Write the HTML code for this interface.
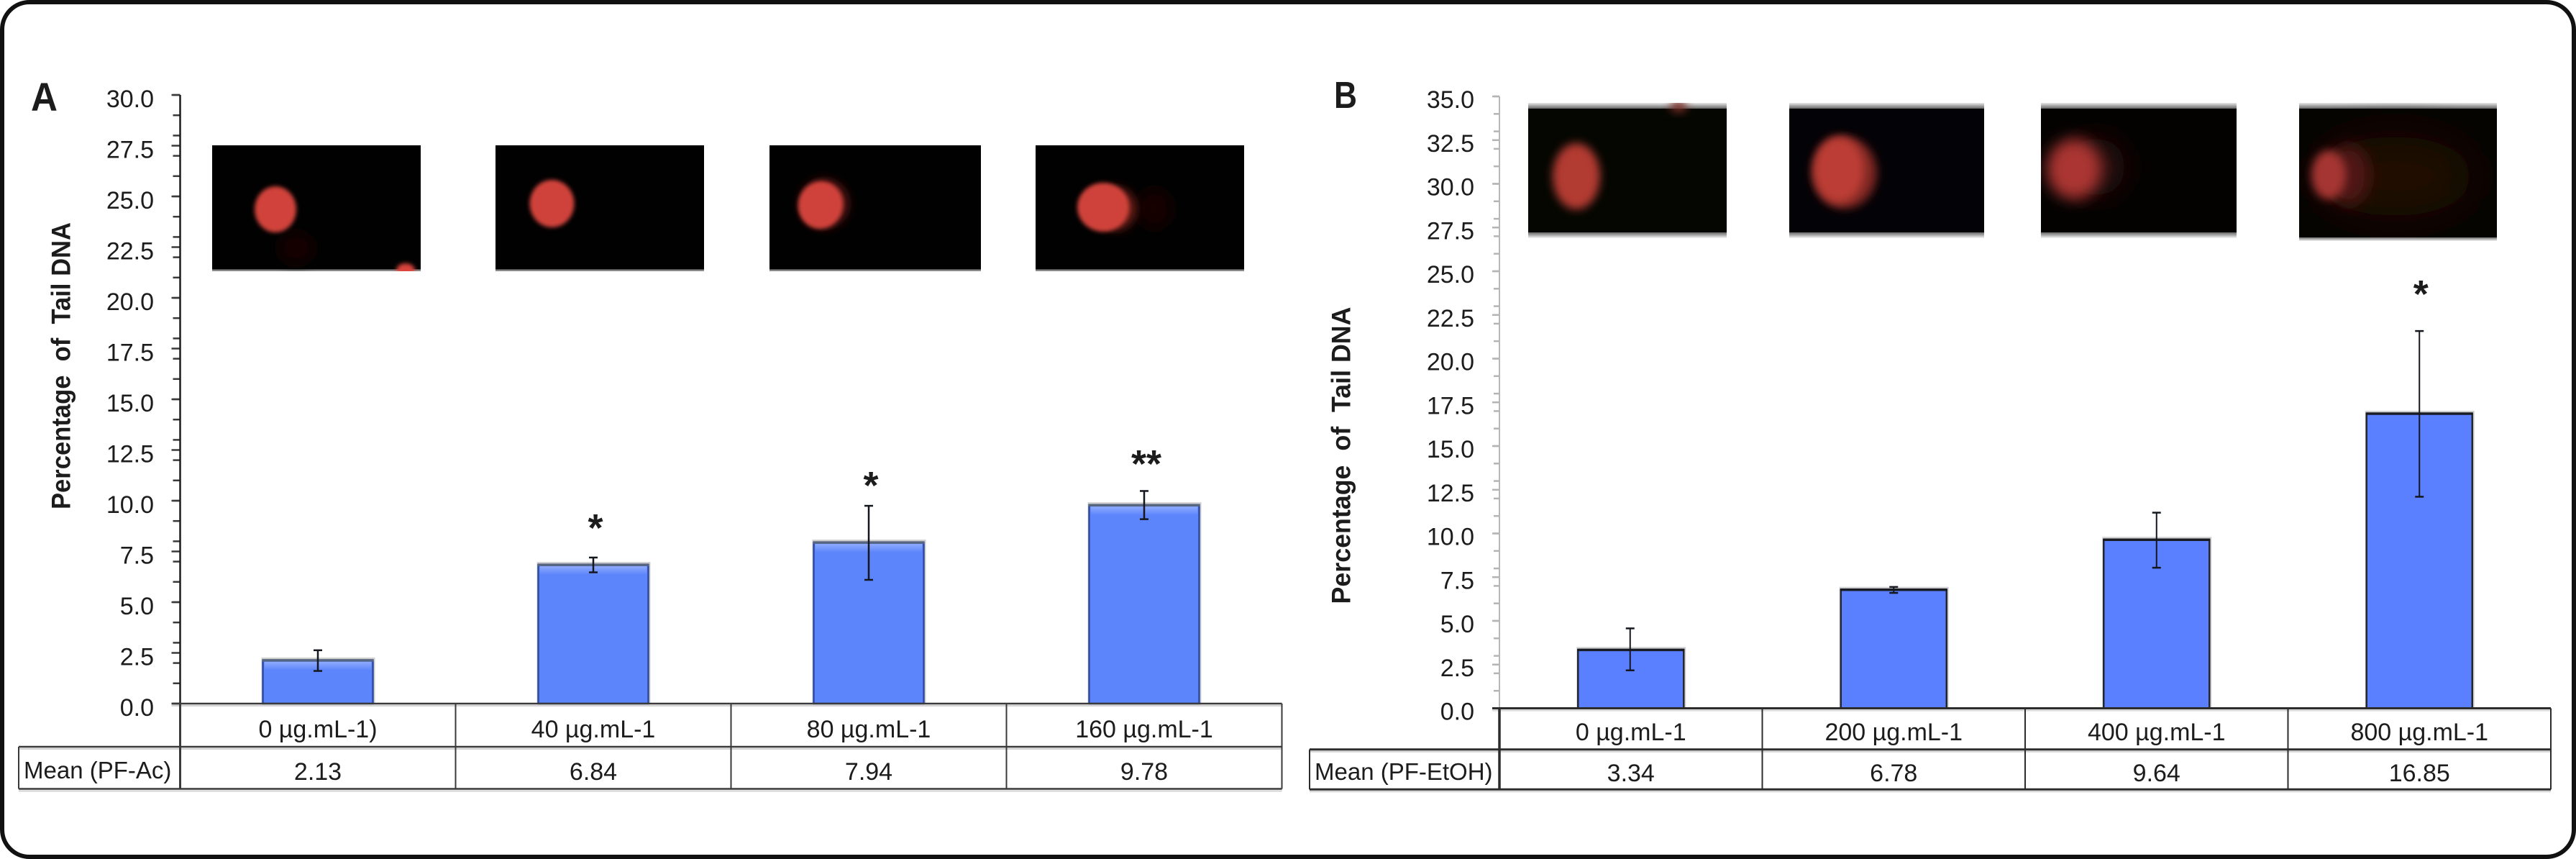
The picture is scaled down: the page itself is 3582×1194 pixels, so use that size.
<!DOCTYPE html>
<html lang="en">
<head>
<meta charset="utf-8">
<title>Percentage of Tail DNA - panels A and B</title>
<style>
html,body{margin:0;padding:0;background:#fff;width:3582px;height:1194px;overflow:hidden}
svg{display:block;position:absolute;left:0;top:0}
text{font-family:"Liberation Sans",sans-serif;fill:#1c1c1c}
</style>
</head>
<body>
<svg id="figure" xmlns="http://www.w3.org/2000/svg" width="3582" height="1194" viewBox="0 0 3582 1194">
  <defs>
    <filter id="b3" x="-50%" y="-50%" width="200%" height="200%"><feGaussianBlur stdDeviation="3"/></filter>
    <filter id="b6" x="-50%" y="-50%" width="200%" height="200%"><feGaussianBlur stdDeviation="6"/></filter>
    <filter id="b10" x="-60%" y="-60%" width="220%" height="220%"><feGaussianBlur stdDeviation="10"/></filter>
    <filter id="b18" x="-60%" y="-60%" width="220%" height="220%"><feGaussianBlur stdDeviation="18"/></filter>
    <filter id="b30" x="-80%" y="-80%" width="260%" height="260%"><feGaussianBlur stdDeviation="30"/></filter>
    <linearGradient id="fadeTop" x1="0" y1="0" x2="0" y2="1"><stop offset="0" stop-color="#e8e8e8"/><stop offset="1" stop-color="#555"/></linearGradient>
    <linearGradient id="fadeBottom" x1="0" y1="0" x2="0" y2="1"><stop offset="0" stop-color="#555"/><stop offset="1" stop-color="#f4f4f4"/></linearGradient>
    <linearGradient id="barGloss" x1="0" y1="0" x2="0" y2="1"><stop offset="0" stop-color="#8fabff"/><stop offset="1" stop-color="#5c84fb"/></linearGradient>
    <clipPath id="ca1"><rect x="295" y="202" width="290" height="175"/></clipPath>
    <clipPath id="ca2"><rect x="689" y="202" width="290" height="175"/></clipPath>
    <clipPath id="ca3"><rect x="1070" y="202" width="294" height="175"/></clipPath>
    <clipPath id="ca4"><rect x="1440" y="202" width="290" height="175"/></clipPath>
    <clipPath id="cb1"><rect x="2125" y="143" width="276" height="180"/></clipPath>
    <clipPath id="cb2"><rect x="2488" y="143" width="271" height="180"/></clipPath>
    <clipPath id="cb3"><rect x="2838" y="143" width="272" height="180"/></clipPath>
    <clipPath id="cb4"><rect x="3197" y="143" width="275" height="187"/></clipPath>
  </defs>

  <rect x="3" y="3" width="3576" height="1188" rx="38" ry="38" fill="#fff" stroke="#111" stroke-width="6"/>

  <g clip-path="url(#ca1)">
    <rect x="295" y="202" width="290" height="175" fill="#020101"/>
    <rect x="295" y="374.5" width="290" height="2.5" fill="#8a8a8a"/>
    <ellipse cx="412" cy="345" rx="24" ry="22" fill="#140302" filter="url(#b10)"/>
    <ellipse cx="383" cy="291" rx="29" ry="32" fill="#d0423a" filter="url(#b3)"/>
    <ellipse cx="564" cy="376" rx="13" ry="10" fill="#d9443c" filter="url(#b3)"/>
  </g>
  <g clip-path="url(#ca2)">
    <rect x="689" y="202" width="290" height="175" fill="#020101"/>
    <rect x="689" y="374.5" width="290" height="2.5" fill="#8a8a8a"/>
    <ellipse cx="767.5" cy="283" rx="31" ry="33" fill="#cf433a" filter="url(#b3)"/>
  </g>
  <g clip-path="url(#ca3)">
    <rect x="1070" y="202" width="294" height="175" fill="#020101"/>
    <rect x="1070" y="374.5" width="294" height="2.5" fill="#8a8a8a"/>
    <ellipse cx="1146" cy="283" rx="34" ry="34" fill="#5a1812" filter="url(#b6)"/>
    <ellipse cx="1141" cy="285" rx="31" ry="33" fill="#cf433a" filter="url(#b3)" transform="rotate(14 1141 285)"/>
  </g>
  <g clip-path="url(#ca4)">
    <rect x="1440" y="202" width="290" height="175" fill="#020101"/>
    <rect x="1440" y="374.5" width="290" height="2.5" fill="#8a8a8a"/>
    <ellipse cx="1605" cy="290" rx="24" ry="28" fill="#140302" filter="url(#b10)"/>
    <ellipse cx="1552" cy="290" rx="28" ry="30" fill="#661c15" filter="url(#b6)"/>
    <ellipse cx="1534" cy="288" rx="36" ry="34" fill="#cf433a" filter="url(#b3)"/>
  </g>

  <g>
    <rect x="2125" y="143" width="276" height="9" fill="url(#fadeTop)"/>
    <rect x="2125" y="322" width="276" height="9" fill="url(#fadeBottom)"/>
    <g clip-path="url(#cb1)">
      <rect x="2125" y="151" width="276" height="172" fill="#050601"/>
      <ellipse cx="2334" cy="148" rx="12" ry="8" fill="#7a2e28" filter="url(#b6)"/>
      <ellipse cx="2192" cy="245" rx="33" ry="46" fill="#b23a32" filter="url(#b6)"/>
    </g>
  </g>
  <g>
    <rect x="2488" y="143" width="271" height="9" fill="url(#fadeTop)"/>
    <rect x="2488" y="322" width="271" height="9" fill="url(#fadeBottom)"/>
    <g clip-path="url(#cb2)">
      <rect x="2488" y="151" width="271" height="172" fill="#030206"/>
      <ellipse cx="2565" cy="240" rx="45" ry="50" fill="#7e2620" filter="url(#b6)"/>
      <ellipse cx="2557" cy="236" rx="35" ry="46" fill="#bc3c34" filter="url(#b6)"/>
    </g>
  </g>
  <g>
    <rect x="2838" y="143" width="272" height="9" fill="url(#fadeTop)"/>
    <rect x="2838" y="322" width="272" height="9" fill="url(#fadeBottom)"/>
    <g clip-path="url(#cb3)">
      <rect x="2838" y="151" width="272" height="172" fill="#030201"/>
      <ellipse cx="2915" cy="232" rx="40" ry="40" fill="#2c0a07" filter="url(#b18)"/>
      <ellipse cx="2884" cy="235" rx="38" ry="42" fill="#aa3630" filter="url(#b10)"/>
    </g>
  </g>
  <g>
    <rect x="3197" y="143" width="275" height="9" fill="url(#fadeTop)"/>
    <rect x="3197" y="329" width="275" height="6" fill="url(#fadeBottom)"/>
    <g clip-path="url(#cb4)">
      <rect x="3197" y="151" width="275" height="179" fill="#060401"/>
      <ellipse cx="3330" cy="245" rx="110" ry="55" fill="#200a05" filter="url(#b30)"/>
      <ellipse cx="3265" cy="243" rx="30" ry="42" fill="#501812" filter="url(#b10)"/>
      <ellipse cx="3238" cy="243" rx="24" ry="34" fill="#a43630" filter="url(#b6)"/>
    </g>
  </g>

  <text x="43" y="154" font-size="56" font-weight="bold" textLength="37" lengthAdjust="spacingAndGlyphs">A</text>
  <text x="1855" y="150" font-size="52" font-weight="bold" textLength="32" lengthAdjust="spacingAndGlyphs">B</text>
  <text transform="translate(97.5 708) rotate(-90)" font-size="37" font-weight="bold" textLength="399" lengthAdjust="spacingAndGlyphs" xml:space="preserve">Percentage  of  Tail DNA</text>
  <text transform="translate(1877.5 839.5) rotate(-90)" font-size="37" font-weight="bold" textLength="413" lengthAdjust="spacingAndGlyphs" xml:space="preserve">Percentage  of  Tail DNA</text>
  <g id="chart-a"></g>
  <g id="chart-b"></g>
</svg>
<script>
// Panel A data
const categoriesA = ['0 µg.mL-1)', '40 µg.mL-1', '80 µg.mL-1', '160 µg.mL-1'];
const meansA = [2.13, 6.84, 7.94, 9.78];
const errorHighA = [2.63, 7.20, 9.75, 10.48];
const errorLowA = [1.61, 6.47, 6.10, 9.09];
const starLabelsA = ['', '*', '*', '**'];
const starLevelsA = [0, 8.97, 11.06, 12.13];
const tickLabelsA = ['0.0', '2.5', '5.0', '7.5', '10.0', '12.5', '15.0', '17.5', '20.0', '22.5', '25.0', '27.5', '30.0'];
const rowLabelA = 'Mean (PF-Ac)';

// Panel B data
const categoriesB = ['0 µg.mL-1', '200 µg.mL-1', '400 µg.mL-1', '800 µg.mL-1'];
const meansB = [3.34, 6.78, 9.64, 16.85];
const errorHighB = [4.57, 6.94, 11.19, 21.58];
const errorLowB = [2.17, 6.60, 8.04, 12.10];
const starLabelsB = ['', '', '', '*'];
const starLevelsB = [0, 0, 0, 24.05];
const tickLabelsB = ['0.0', '2.5', '5.0', '7.5', '10.0', '12.5', '15.0', '17.5', '20.0', '22.5', '25.0', '27.5', '30.0', '32.5', '35.0'];
const rowLabelB = 'Mean (PF-EtOH)';

const NS = 'http://www.w3.org/2000/svg';
function make(parent, tag, props, content) {
  const node = document.createElementNS(NS, tag);
  for (const key in props) node.setAttribute(key, props[key]);
  if (content !== undefined) node.textContent = content;
  parent.appendChild(node);
  return node;
}

function drawPanel(root, opt, categories, means, errHigh, errLow, starLabels, starLevels, tickLabels, rowLabel) {
  const y = v => opt.y0 - v * opt.unit;
  const xEdge = i => opt.x0 + i * opt.col;
  const xMid = i => xEdge(i) + opt.col / 2;
  const yMax = parseFloat(tickLabels[tickLabels.length - 1]);

  // minor ticks every 1 unit
  for (let v = 0; v <= yMax; v += 1) {
    const t = make(root, 'line', {x1: opt.x0 - opt.minorLen, x2: opt.x0, y1: y(v), y2: y(v), stroke: opt.tickColor, 'stroke-width': opt.tickWidth});
    
    
  }
  // major ticks and labels
  tickLabels.forEach(label => {
    const v = parseFloat(label);
    const t = make(root, 'line', {x1: opt.x0 - opt.majorLen, x2: opt.x0, y1: y(v), y2: y(v), stroke: opt.tickColor, 'stroke-width': opt.tickWidth});
    
    
    const s = make(root, 'text', {x: opt.tickLabelX, y: y(v) + opt.tickLabelDy, 'font-size': 34, 'text-anchor': 'end'}, label);
    
    
  });

  // bars
  means.forEach((m, i) => {
    const left = xMid(i) - opt.barW / 2;
    const halo = make(root, 'rect', {x: left - 2, y: y(m) - 4, width: opt.barW + 5, height: opt.y0 - y(m) + 4, fill: '#cfcfcf'});
    
    
    const b = make(root, 'rect', {x: left, y: y(m), width: opt.barW, height: opt.y0 - y(m), fill: opt.barFill, stroke: opt.barStroke, 'stroke-width': opt.barStrokeW});
    
    
    if (opt.gloss) {
      const g = make(root, 'rect', {x: left + 2, y: y(m) + 2, width: opt.barW - 4, height: 12, fill: 'url(#barGloss)'});
      
      
    }
    const cap = make(root, 'line', {x1: left - 1, x2: left + opt.barW + 1, y1: y(m), y2: y(m), stroke: opt.barTop, 'stroke-width': 3.5});
    
    
  });

  // error bars
  means.forEach((m, i) => {
    const cx = xMid(i) + opt.errDx[i];
    const v = make(root, 'line', {x1: cx, x2: cx, y1: y(errHigh[i]), y2: y(errLow[i]), stroke: '#15171f', 'stroke-width': opt.errWidth});
    
    
    const c1 = make(root, 'line', {x1: cx - 6, x2: cx + 6, y1: y(errHigh[i]), y2: y(errHigh[i]), stroke: '#15171f', 'stroke-width': 2.5});
    
    
    const c2 = make(root, 'line', {x1: cx - 6, x2: cx + 6, y1: y(errLow[i]), y2: y(errLow[i]), stroke: '#15171f', 'stroke-width': 2.5});
    
    
  });

  // significance stars
  starLabels.forEach((label, i) => {
    if (!label) return;
    const s = make(root, 'text', {x: xMid(i) + opt.starDx, y: y(starLevels[i]) + 27, 'font-size': 54, 'font-weight': 'bold', 'text-anchor': 'middle'}, label);
    
    
  });

  // axis and table lines
  const axis = make(root, 'line', {x1: opt.x0, x2: opt.x0, y1: y(yMax), y2: opt.y0, stroke: opt.axisColor, 'stroke-width': opt.axisWidth});
  
  
  const right = xEdge(categories.length);
  [[opt.x0 - opt.majorLen, opt.y0, 'table-top-line'], [opt.tableLeft, opt.rowY, 'table-middle-line'], [opt.tableLeft, opt.tableBottom, 'table-bottom-line']].forEach(item => {
    const shadow = make(root, 'line', {x1: item[0], x2: right, y1: item[1] + 3, y2: item[1] + 3, stroke: '#d2d2d2', 'stroke-width': 2});
    
    
    const l = make(root, 'line', {x1: item[0], x2: right, y1: item[1], y2: item[1], stroke: opt.tableColor, 'stroke-width': opt.tableWidth});
    
    
  });
  for (let i = 0; i <= categories.length; i++) {
    const d = make(root, 'line', {x1: xEdge(i), x2: xEdge(i), y1: opt.y0, y2: opt.tableBottom, stroke: opt.tableColor, 'stroke-width': i === 0 ? opt.tableWidth + 0.5 : 2});
    
    
  }
  const edge = make(root, 'line', {x1: opt.tableLeft, x2: opt.tableLeft, y1: opt.rowY, y2: opt.tableBottom, stroke: opt.tableColor, 'stroke-width': 2});
  
  

  // table text
  categories.forEach((c, i) => {
    const t = make(root, 'text', {x: xMid(i), y: opt.catBase, 'font-size': 34, 'text-anchor': 'middle'}, c);
    
    
    const n = make(root, 'text', {x: xMid(i), y: opt.meanBase, 'font-size': 34, 'text-anchor': 'middle'}, means[i].toFixed(2));
    
    
  });
  const r = make(root, 'text', {x: opt.rowLabelX, y: opt.rowLabelBase, 'font-size': 33}, rowLabel);
  
  
}

drawPanel(document.getElementById('chart-a'), {
  x0: 250.5, col: 383, y0: 978, unit: 28.2, barW: 153, barFill: '#5c84fb', barStroke: '#2f4a9e', barStrokeW: 2.5,
  barTop: '#566580', gloss: true, errDx: [0, 0, 0, 0], errWidth: 2.5, starDx: 3,
  minorLen: 10, majorLen: 12, tickColor: '#3a3a3a', tickWidth: 2.5, axisColor: '#1c1c1c', axisWidth: 2.5,
  tickLabelX: 214, tickLabelDy: 17, tableLeft: 26, rowY: 1038, tableBottom: 1096.5, tableColor: '#3a3a3a', tableWidth: 2.5,
  catBase: 1025, meanBase: 1084, rowLabelX: 33, rowLabelBase: 1082
}, categoriesA, meansA, errorHighA, errorLowA, starLabelsA, starLevelsA, tickLabelsA, rowLabelA);

drawPanel(document.getElementById('chart-b'), {
  x0: 2085, col: 365.5, y0: 984.5, unit: 24.3, barW: 147, barFill: '#5a7fff', barStroke: '#25272e', barStrokeW: 2.5,
  barTop: '#1a1c24', gloss: false, errDx: [-1, 0, 0, 0], errWidth: 2, starDx: 2,
  minorLen: 8, majorLen: 10, tickColor: '#b4b4b4', tickWidth: 2.5, axisColor: '#b8b8b8', axisWidth: 2,
  tickLabelX: 2050, tickLabelDy: 16, tableLeft: 1821, rowY: 1041.7, tableBottom: 1097.3, tableColor: '#2c2c2c', tableWidth: 3,
  catBase: 1029, meanBase: 1086, rowLabelX: 1828, rowLabelBase: 1084
}, categoriesB, meansB, errorHighB, errorLowB, starLabelsB, starLevelsB, tickLabelsB, rowLabelB);
</script>
</body>
</html>
